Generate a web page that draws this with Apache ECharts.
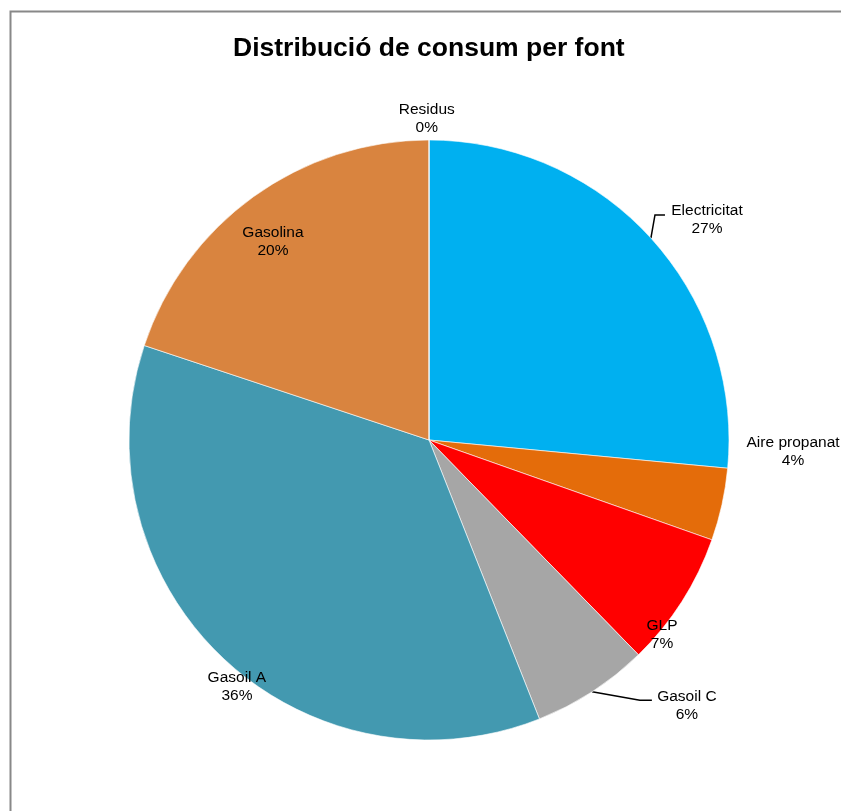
<!DOCTYPE html>
<html><head><meta charset="utf-8">
<script src="https://cdn.jsdelivr.net/npm/echarts@6/dist/echarts.min.js"></script>
<style>html,body{margin:0;padding:0;background:#fff}#c{width:841px;height:811px}</style>
</head><body><div id="c"></div>
<script>
// ---- data ----
const title = 'Distribució de consum per font';
const categories = ['Electricitat', 'Aire propanat', 'GLP', 'Gasoil C', 'Gasoil A', 'Gasolina', 'Residus'];
const shares = [26.5, 3.9, 7.3, 6.3, 36.1, 19.9, 0];

// ---- styles / layout ----
const colors = ['#00B0F0', '#E46C0A', '#FF0000', '#A6A6A6', '#4399B0', '#D9843F', '#7F7F7F'];
const CX = 429, CY = 440, R = 300;
// label anchor: [angle in degrees clockwise from top, radius factor]
const labelPolar = [[51.5, 1.184], [91.7, 1.214], [129.8, 1.011], [135.8, 1.233], [218.0, 1.040], [322.0, 0.845], [359.6, 1.073]];
// leader lines: elbow offsets relative to label centre
const leader = { 0: [[-52, -4], [-42, -4]], 3: [[-47, -5], [-35, -5]] };

const total = shares.reduce((a, b) => a + b, 0);
const midAngles = [];
let acc = 0;
shares.forEach(v => { midAngles.push((acc + v / 2) / total * 360); acc += v; });
function polar(aDeg, r) {
  const a = aDeg * Math.PI / 180;
  return [CX + r * Math.sin(a), CY - r * Math.cos(a)];
}

const chart = echarts.init(document.getElementById('c'), null, { renderer: 'canvas' });
chart.setOption({
  backgroundColor: '#fff',
  animation: false,
  title: {
    text: title, left: 233, top: 35, padding: 0,
    textStyle: { fontFamily: 'Liberation Sans, Arial, sans-serif', fontWeight: 'bold', fontSize: 26.5, color: '#000' }
  },
  graphic: [{
    type: 'rect', left: 8, top: 9, silent: true,
    shape: { x: 0, y: 0, width: 900, height: 900 },
    style: { fill: 'none', stroke: '#888', lineWidth: 2 }
  }],
  series: [{
    type: 'pie',
    center: [CX, CY],
    radius: R,
    startAngle: 90,
    clockwise: true,
    avoidLabelOverlap: false,
    itemStyle: { borderColor: '#fff', borderWidth: 0.6 },
    label: {
      show: true, position: 'outside', color: '#000',
      fontFamily: 'Liberation Sans, Arial, sans-serif', fontSize: 15.5, lineHeight: 18, align: 'center',
      formatter: p => p.name + '\n' + Math.round(p.percent) + '%'
    },
    labelLine: { show: false, lineStyle: { color: '#000', width: 1.5 } },
    labelLayout: function (params) {
      const i = params.dataIndex;
      const [x, y] = polar(labelPolar[i][0], labelPolar[i][1] * R);
      const res = { x: x, y: y + 1, align: 'center', verticalAlign: 'middle' };
      if (leader[i]) {
        const p1 = polar(midAngles[i], R);
        res.labelLinePoints = [p1, [x + leader[i][0][0], y + leader[i][0][1]], [x + leader[i][1][0], y + leader[i][1][1]]];
      }
      return res;
    },
    data: categories.map((c, i) => ({
      name: c, value: shares[i],
      itemStyle: { color: colors[i] },
      labelLine: { show: !!leader[i] }
    }))
  }]
});
</script></body></html>
